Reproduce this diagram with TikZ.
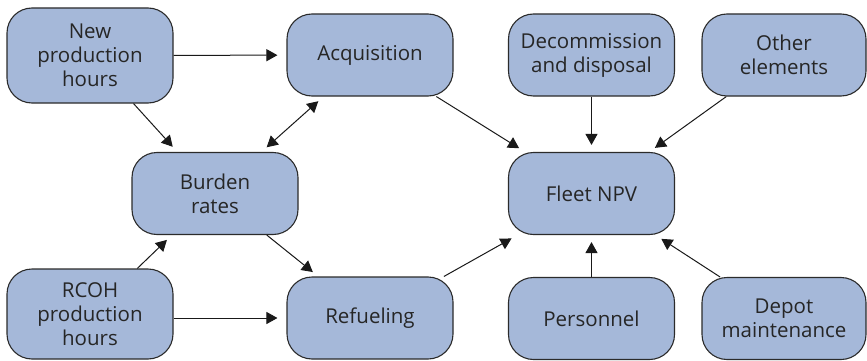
\documentclass[tikz,border=0pt]{standalone}
\usepackage{fontspec}
\setmainfont{Open Sans}
\usetikzlibrary{arrows.meta}
\definecolor{boxfill}{HTML}{A5B8D9}
\definecolor{boxline}{HTML}{2B2B2B}
\tikzset{
  blk/.style={draw=boxline, line width=1.1pt, fill=boxfill, rounded corners=25pt,
    minimum width=166pt, minimum height=82pt, align=center, inner sep=0pt,
    font=\fontsize{20.5}{24}\selectfont, text=black!85},
  conn/.style={line width=1pt, draw=black!90, -{Triangle[length=11pt,width=12pt]}, shorten >=7pt},
  conn2/.style={line width=1pt, draw=black!90, {Triangle[length=11pt,width=12pt]}-{Triangle[length=11pt,width=12pt]}, shorten >=7pt, shorten <=7pt}
}
\begin{document}
\begin{tikzpicture}[x=1pt,y=-1pt]
\useasboundingbox (0,0) rectangle (867,361);
\node[blk, minimum height=95pt] (new) at (90,55.5) {New\\production\\hours};
\node[blk] (acq) at (370,55) {Acquisition};
\node[blk] (bur) at (215,193.5) {Burden\\rates};
\node[blk, minimum height=90pt] (rcoh) at (90,314) {RCOH\\production\\hours};
\node[blk] (ref) at (370,318) {Refueling};
\node[blk] (dec) at (591.5,55) {Decommission\\and disposal};
\node[blk, minimum width=164pt] (oth) at (784,55) {Other\\elements};
\node[blk] (npv) at (591.5,193.5) {Fleet NPV};
\node[blk] (per) at (591.5,318.5) {Personnel};
\node[blk, minimum width=164pt] (dep) at (784,318.5) {Depot\\maintenance};

\draw[conn, shorten >=9pt] (new) -- (acq);
\draw[conn] (new) -- (bur);
\draw[conn2] (bur) -- (acq);
\draw[conn] (acq) -- (npv);
\draw[conn] (dec) -- (npv);
\draw[conn] (oth) -- (npv);
\draw[conn] (bur) -- (ref);
\draw[conn] (rcoh) -- (bur);
\draw[conn, shorten >=9pt] (rcoh.east |- ref) -- (ref);
\draw[conn] (ref) -- (npv);
\draw[conn] (per) -- (npv);
\draw[conn] (dep) -- (npv);
\end{tikzpicture}
\end{document}
